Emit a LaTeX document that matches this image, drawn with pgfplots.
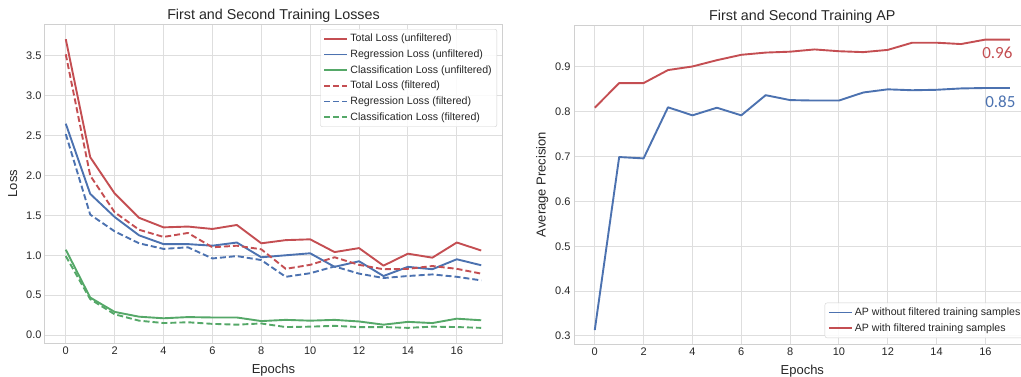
\documentclass[border=0pt]{standalone}
\usepackage{fontspec}
\setmainfont{Liberation Sans}
\newfontfamily\calib{Carlito}
\usepackage{pgfplots}
\pgfplotsset{compat=1.18}
\definecolor{sbblue}{HTML}{4C72B0}
\definecolor{sbgreen}{HTML}{55A868}
\definecolor{sbred}{HTML}{C44E52}
\definecolor{gridc}{HTML}{DEDEDE}
\definecolor{spinec}{HTML}{D0D0D0}
\definecolor{labc}{HTML}{262626}
\pgfplotsset{
  sbstyle/.style={
    scale only axis, height=319pt,
    xmin=-0.85, xmax=17.85,
    xtick={0,2,...,16},
    grid=major, major grid style={line width=1pt, color=gridc},
    axis line style={line width=1pt, color=spinec},
    tick style={draw=none},
    ticklabel style={font=\fontsize{11}{13}\selectfont, text=labc},
    /pgf/number format/assume math mode=true,
    yticklabel style={/pgf/number format/.cd, fixed, fixed zerofill, precision=1},
    title style={font=\fontsize{14.3}{16}\selectfont, text=labc, yshift=-8pt},
    label style={font=\fontsize{13}{15}\selectfont, text=labc},
    xlabel style={yshift=-3pt},
    every axis plot/.append style={line width=1.9pt, line join=round, no marks},
    legend style={draw=spinec, rounded corners=2pt, fill=white, fill opacity=0.85, text opacity=1,
      font=\fontsize{10.6}{12}\selectfont, text=labc, inner sep=3pt, row sep=2.5pt},
    legend cell align=left,
    legend image code/.code={\draw[#1, line width=1.9pt] (0pt,0pt) -- (23pt,0pt);},
  },
  dsh/.style={dash pattern=on 6pt off 3pt},
}
\begin{document}
\begin{tikzpicture}
\begin{axis}[sbstyle, at={(45pt,33pt)}, anchor=south west, width=457pt,
  ymin=-0.1, ymax=3.9, ytick={0,0.5,...,3.5},
  title={First and Second Training Losses},
  xlabel={Epochs}, ylabel={Loss},
  ylabel style={yshift=2pt},
  legend style={at={(1,1)}, anchor=north east, xshift=-5pt, yshift=-5pt},
]
\addplot[sbred] coordinates {(0,3.71)(1,2.23)(2,1.775)(3,1.47)(4,1.35)(5,1.36)(6,1.33)(7,1.38)(8,1.15)(9,1.19)(10,1.20)(11,1.04)(12,1.09)(13,0.87)(14,1.02)(15,0.97)(16,1.16)(17,1.06)};
\addlegendentry{Total Loss (unfiltered)}
\addplot[sbblue] coordinates {(0,2.65)(1,1.77)(2,1.48)(3,1.25)(4,1.14)(5,1.14)(6,1.12)(7,1.16)(8,0.975)(9,1.00)(10,1.025)(11,0.855)(12,0.925)(13,0.74)(14,0.855)(15,0.825)(16,0.95)(17,0.875)};
\addlegendentry{Regression Loss (unfiltered)}
\addplot[sbgreen] coordinates {(0,1.07)(1,0.47)(2,0.29)(3,0.23)(4,0.21)(5,0.225)(6,0.22)(7,0.22)(8,0.175)(9,0.19)(10,0.18)(11,0.19)(12,0.17)(13,0.13)(14,0.165)(15,0.15)(16,0.205)(17,0.185)};
\addlegendentry{Classification Loss (unfiltered)}
\addplot[sbred, dsh] coordinates {(0,3.52)(1,2.0)(2,1.54)(3,1.32)(4,1.23)(5,1.28)(6,1.10)(7,1.12)(8,1.075)(9,0.83)(10,0.88)(11,0.975)(12,0.88)(13,0.825)(14,0.83)(15,0.865)(16,0.83)(17,0.77)};
\addlegendentry{Total Loss (filtered)}
\addplot[sbblue, dsh] coordinates {(0,2.52)(1,1.51)(2,1.30)(3,1.15)(4,1.08)(5,1.10)(6,0.96)(7,0.99)(8,0.94)(9,0.73)(10,0.775)(11,0.86)(12,0.77)(13,0.715)(14,0.74)(15,0.76)(16,0.73)(17,0.685)};
\addlegendentry{Regression Loss (filtered)}
\addplot[sbgreen, dsh] coordinates {(0,0.99)(1,0.45)(2,0.26)(3,0.18)(4,0.15)(5,0.16)(6,0.14)(7,0.13)(8,0.145)(9,0.10)(10,0.105)(11,0.115)(12,0.10)(13,0.10)(14,0.09)(15,0.105)(16,0.10)(17,0.09)};
\addlegendentry{Classification Loss (filtered)}
\end{axis}
\begin{axis}[sbstyle, at={(574pt,32pt)}, anchor=south west, width=456.6pt,
  ymin=0.282, ymax=0.9935, ytick={0.3,0.4,...,0.9},
  title={First and Second Training AP},
  xlabel={Epochs}, ylabel={Average Precision},
  legend style={at={(1,0)}, anchor=south east, xshift=-5pt, yshift=6pt},
]
\addplot[sbblue] coordinates {(0,0.313)(1,0.699)(2,0.696)(3,0.810)(4,0.792)(5,0.809)(6,0.792)(7,0.837)(8,0.826)(9,0.825)(10,0.825)(11,0.843)(12,0.850)(13,0.848)(14,0.849)(15,0.852)(16,0.853)(17,0.853)};
\addlegendentry{AP without filtered training samples}
\addplot[sbred] coordinates {(0,0.809)(1,0.864)(2,0.864)(3,0.893)(4,0.901)(5,0.915)(6,0.927)(7,0.932)(8,0.934)(9,0.939)(10,0.935)(11,0.933)(12,0.938)(13,0.954)(14,0.954)(15,0.951)(16,0.961)(17,0.961)};
\addlegendentry{AP with filtered training samples}
\node[text=sbred, font=\calib\fontsize{17}{17}\selectfont] at (axis cs:16.49,0.9325) {0.96};
\node[text=sbblue, font=\calib\fontsize{17}{17}\selectfont] at (axis cs:16.61,0.823) {0.85};
\end{axis}
\pgfresetboundingbox
\path[use as bounding box] (0,0) rectangle (1021pt,376pt);
\end{tikzpicture}
\end{document}
